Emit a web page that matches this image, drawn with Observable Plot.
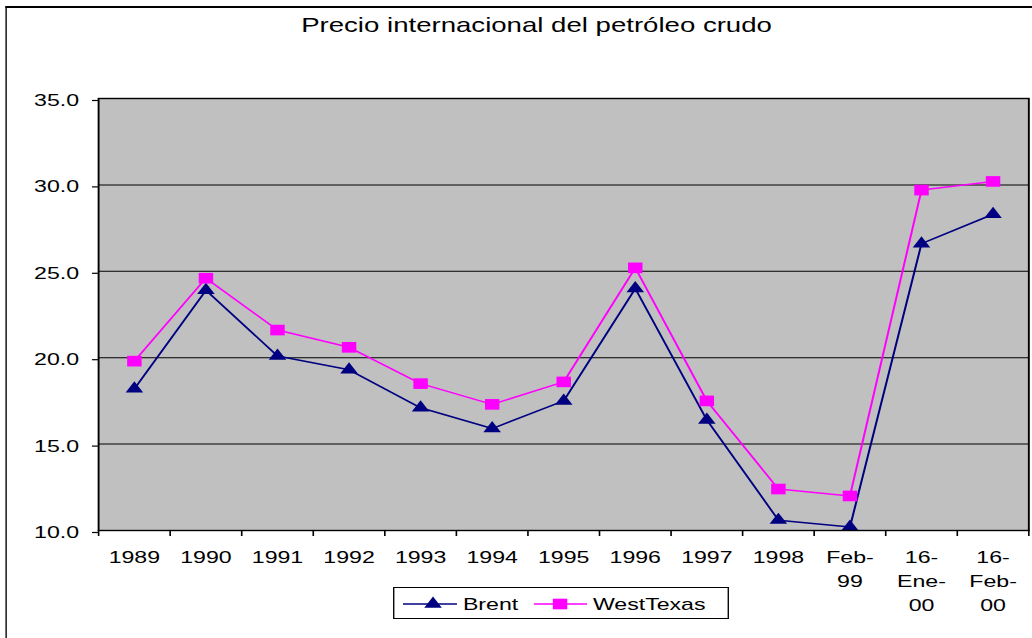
<!DOCTYPE html>
<html><head><meta charset="utf-8">
<script src="https://cdn.jsdelivr.net/npm/d3@7"></script>
<script src="https://cdn.jsdelivr.net/npm/@observablehq/plot@0.6"></script>
<style>
html,body{margin:0;padding:0;background:#fff;overflow:hidden;width:1032px;height:638px;}
#wrap{position:absolute;left:0;top:0;width:759px;height:638px;transform:scaleX(1.36);transform-origin:0 0;font-family:"Liberation Sans",Arial,sans-serif;color:#000;}
#border{position:absolute;left:4.4px;top:6px;width:800px;height:700px;border-left:1.5px solid #000;border-top:2px solid #000;}
#title{position:absolute;left:0;width:789px;top:14.5px;line-height:20px;font-size:20.3px;text-align:center;white-space:nowrap;}
#chart{position:absolute;left:0;top:0;}
#legend{position:absolute;left:289px;top:587px;}
</style></head><body>
<div id="wrap">
<div id="border"></div>
<div id="title">Precio internacional del petróleo crudo</div>
<div id="chart"></div>
<div id="legend"></div>
</div>
<script>
const categories = ["1989","1990","1991","1992","1993","1994","1995","1996","1997","1998","Feb-\n99","16-\nEne-\n00","16-\nFeb-\n00"];
const brent = [18.2,23.9,20.1,19.3,17.1,15.9,17.5,24.0,16.4,10.6,10.2,26.6,28.3];
const westTexas = [19.8,24.6,21.6,20.6,18.5,17.3,18.6,25.2,17.5,12.4,12.0,29.7,30.2];
const seriesNames = ["Brent","WestTexas"];
const seriesColors = ["#000080","#FF00FF"];
const seriesSymbols = ["triangle","square"];
const yTicks = [10,15,20,25,30,35];

const data = [];
[brent, westTexas].forEach((vals, s) => vals.forEach((v, i) => data.push({cat: categories[i], value: v, series: seriesNames[s]})));

const W = 759, H = 638, mL = 72, mR = 3, mT = 98, mB = 108;
const bw = (W - mL - mR) / categories.length;
const pxPerUnit = (H - mT - mB) / (yTicks[yTicks.length-1] - yTicks[0]);
const tickLen = 6 / pxPerUnit;

const chart = Plot.plot({
  width: W, height: H,
  marginLeft: mL, marginRight: mR, marginTop: mT, marginBottom: mB,
  style: {fontFamily: "Liberation Sans, Arial, sans-serif", fontSize: "17px", background: "transparent", color: "#000", overflow: "visible"},
  x: {type: "band", domain: categories, padding: 0, round: false},
  y: {domain: [yTicks[0], yTicks[yTicks.length-1]]},
  color: {domain: seriesNames, range: seriesColors},
  symbol: {domain: seriesNames, range: seriesSymbols},
  marks: [
    Plot.frame({fill: "#C0C0C0"}),
    Plot.gridY(yTicks, {stroke: "#000", strokeOpacity: 1, strokeWidth: 1}),
    Plot.axisY(yTicks, {tickFormat: d => d.toFixed(1), tickSize: 4.4, tickPadding: 10, fontSize: 17, dy: 2, label: null, strokeWidth: 1.2}),
    Plot.axisX({tickSize: 0, tickPadding: 16, fontSize: 17, lineHeight: 1.4, label: null}),
    Plot.ruleX(categories, {x: d => d, dx: -bw/2, y1: () => yTicks[0], y2: () => yTicks[0] - tickLen, stroke: "#000", strokeWidth: 1.2}),
    Plot.ruleX([categories[categories.length-1]], {x: d => d, dx: bw/2, y1: () => yTicks[0], y2: () => yTicks[0] - tickLen, stroke: "#000", strokeWidth: 1.2}),
    Plot.line(data, {x: "cat", y: "value", stroke: "series", strokeWidth: 1.5}),
    Plot.dot(data, {filter: d => d.series === seriesNames[0], x: "cat", y: "value", symbol: "series", fill: "series", r: 4.8}),
    Plot.dot(data, {filter: d => d.series === seriesNames[1], x: "cat", y: "value", symbol: "series", fill: "series", r: 6.0}),
    Plot.frame({stroke: "#000", strokeWidth: 1.4})
  ]
});
document.getElementById("chart").append(chart);

// legend
const lw = 247, lh = 32;
const lsvg = d3.select("#legend").append("svg").attr("width", lw).attr("height", lh)
  .style("font-family", "Liberation Sans, Arial, sans-serif").style("font-size", "17px");
lsvg.append("rect").attr("x", 0.5).attr("y", 0.5).attr("width", lw - 1).attr("height", lh - 1).attr("fill", "#fff").attr("stroke", "#000");
const items = [
  {x0: 7.3, x1: 47, cx: 29.4, tx: 51.4, sym: d3.symbolTriangle, r: 4.8},
  {x0: 103.6, x1: 142.6, cx: 122.8, tx: 147, sym: d3.symbolSquare, r: 6.0}
];
items.forEach((it, i) => {
  const g = lsvg.append("g");
  g.append("line").attr("x1", it.x0).attr("x2", it.x1).attr("y1", 17).attr("y2", 17).attr("stroke", seriesColors[i]).attr("stroke-width", 1.5);
  g.append("path").attr("d", d3.symbol(it.sym, it.r * it.r * Math.PI)()).attr("transform", `translate(${it.cx},17)`).attr("fill", seriesColors[i]);
  g.append("text").attr("x", it.tx).attr("y", 23).text(seriesNames[i]);
});
</script>
</body></html>
